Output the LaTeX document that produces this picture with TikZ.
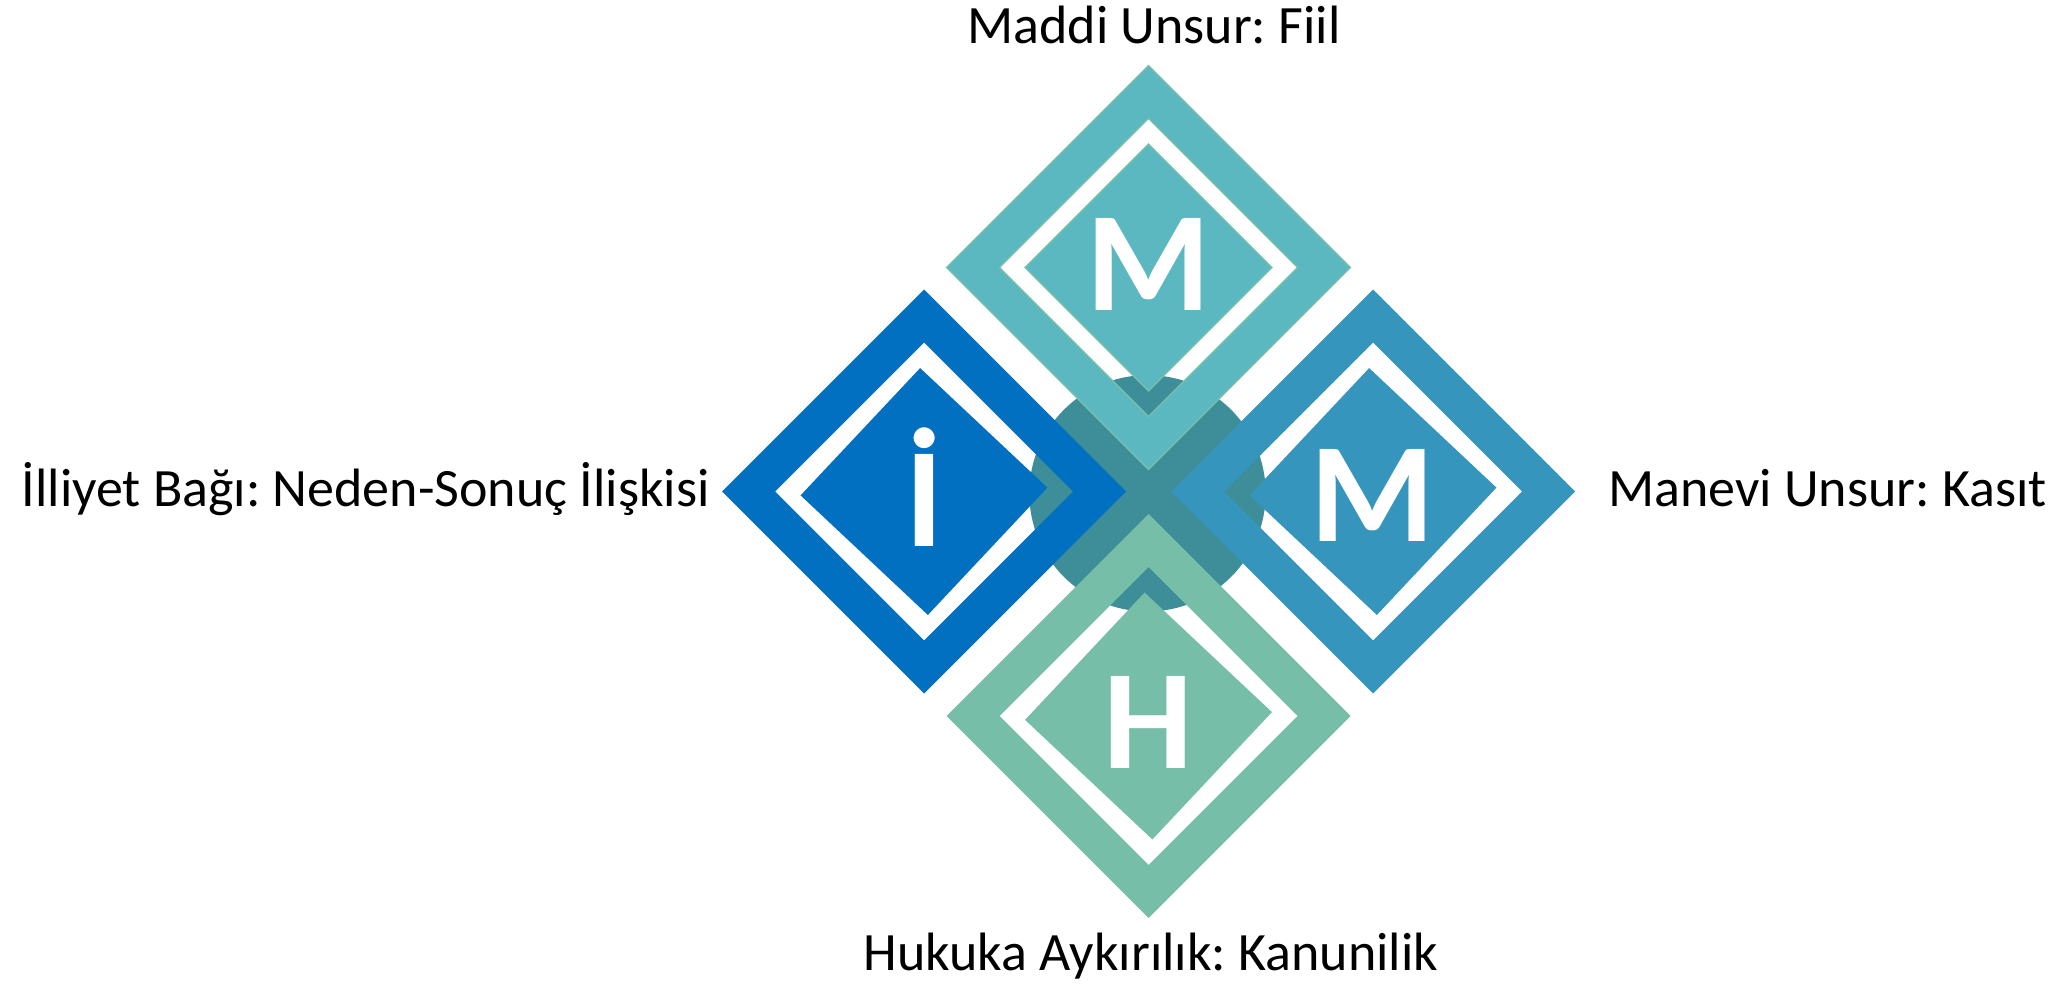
\documentclass[tikz,border=0pt]{standalone}
\usepackage{fontspec}
\setmainfont{Carlito}
\frenchspacing
\definecolor{cTop}{HTML}{5BB7C0}
\definecolor{cTopEdge}{HTML}{7CC0AA}
\definecolor{cLeft}{HTML}{0270C0}
\definecolor{cRight}{HTML}{3595BC}
\definecolor{cBottom}{HTML}{77BEA8}
\definecolor{cCirc}{HTML}{3D8E98}
\tikzset{
  topd/.style={fill=cTop, draw=cTopEdge, line width=1.2pt},
  leftd/.style={fill=cLeft},
  rightd/.style={fill=cRight},
  bottomd/.style={fill=cBottom},
  lab/.style={font=\fontsize{54}{62}\selectfont, text=black, inner sep=0pt},
  letter/.style={font=\bfseries\fontsize{142}{150}\selectfont, text=white, inner sep=0pt, anchor=base},
}
\newcommand\mydiamond[4]{%
  \begin{scope}[shift={(#1,#2)}]
    \path[#3, even odd rule] (0,-202)--(202,0)--(0,202)--(-202,0)--cycle
                             (0,-149)--(149,0)--(0,149)--(-149,0)--cycle;
    \path[#3, rotate=#4] (0,-123.5)--(123.5,0)--(0,123.5)--(-123.5,0)--cycle;
  \end{scope}}
\begin{document}
\begin{tikzpicture}[x=1pt,y=-1pt]
\useasboundingbox (0,0) rectangle (2048,987);
\fill[white] (0,0) rectangle (2048,987);
\fill[cCirc] (1147.5,493.3) circle[radius=118.2];
\mydiamond{1148.5}{267.5}{topd}{0}
\mydiamond{924}{491.5}{leftd}{1.8}
\mydiamond{1373}{491.5}{rightd}{1.8}
\mydiamond{1148.5}{716}{bottomd}{1.8}
\node[letter] (mt) at (1148.5,310) {M};
\node[letter] (il) at (924,546) {İ};
\node[letter] (mr) at (1373,541.5) {M};
\node[letter] (hb) at (1148.5,768) {H};
\node[lab, anchor=base] (maddi) at (1154,43.3) {Maddi Unsur: Fiil};
\node[lab, anchor=base east] (illiyet) at (710,506) {İlliyet Bağı: Neden-Sonuç İlişkisi};
\node[lab, anchor=base west] (manevi) at (1608,506.7) {Manevi Unsur: Kasıt};
\node[lab, anchor=base] (hukuka) at (1151,970) {Hukuka Aykırılık: Kanunilik};
\end{tikzpicture}
\end{document}
